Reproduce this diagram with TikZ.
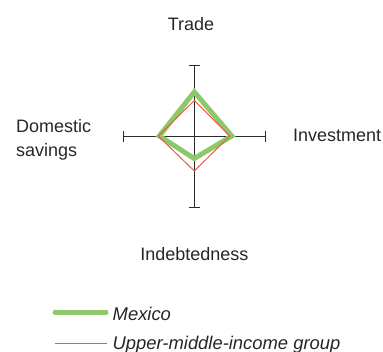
\documentclass[tikz,border=0pt]{standalone}
\usepackage{fontspec}
\setmainfont{Liberation Sans}
\definecolor{mexgreen}{HTML}{8DC96B}
\definecolor{umired}{HTML}{EE5A40}
\definecolor{axisgray}{HTML}{2B2B2B}
\begin{document}
\begin{tikzpicture}[x=1pt,y=-1pt,
  lbl/.style={inner sep=0pt,font=\fontsize{18}{24.5}\selectfont,text=black!85},
  leglbl/.style={lbl,font=\fontsize{18.4}{24.5}\selectfont\itshape},
  axisline/.style={draw=axisgray,line width=1pt},
  mexline/.style={draw=mexgreen,line width=5pt},
  umiline/.style={draw=umired,line width=1pt}]
\useasboundingbox (0,0) rectangle (383,351);
% centre
\coordinate (c) at (194.3,136);
% axes
\coordinate (at) at (194.3,65);
\coordinate (ab) at (194.3,207);
\coordinate (al) at (123.3,136);
\coordinate (ar) at (265.3,136);
\draw[axisline] (at) -- (ab);
\draw[axisline] (al) -- (ar);
\draw[axisline] ([xshift=-5.5]at) -- ([xshift=5.5]at);
\draw[axisline] ([xshift=-5.5]ab) -- ([xshift=5.5]ab);
\draw[axisline] ([yshift=-5.5]al) -- ([yshift=5.5]al);
\draw[axisline] ([yshift=-5.5]ar) -- ([yshift=5.5]ar);
% Mexico
\coordinate (mt) at (194.3,92);
\coordinate (mr) at (231.8,136);
\coordinate (mb) at (194.3,158.5);
\coordinate (ml) at (159.3,136);
\draw[mexline] (mt) -- (mr) -- (mb) -- (ml) -- cycle;
% Upper-middle-income group
\coordinate (ut) at (194.3,100.5);
\coordinate (ur) at (229.8,136);
\coordinate (ub) at (194.3,171);
\coordinate (ul) at (158.3,136);
\draw[umiline] (ut) -- (ur) -- (ub) -- (ul) -- cycle;
% labels
\node[lbl,anchor=base] (trade) at (191,30) {Trade};
\node[lbl,anchor=base west] (inv) at (293,141.5) {Investment};
\node[lbl,anchor=base west] (dom1) at (16,132) {Domestic};
\node[lbl,anchor=base west] (dom2) at (16,156.5) {savings};
\node[lbl,anchor=base] (indebt) at (194.3,260.5) {Indebtedness};
% legend
\coordinate (g1) at (55,312);
\coordinate (g2) at (106,312);
\draw[mexline,line cap=round] (g1) -- (g2);
\node[leglbl,anchor=base west] (mexlbl) at (112.5,320) {Mexico};
\coordinate (r1) at (55,343.5);
\coordinate (r2) at (106.7,343.5);
\draw[umiline,line width=1.2pt] (r1) -- (r2);
\node[leglbl,anchor=base west] (umilbl) at (112.5,349.5) {Upper-middle-income group};
\end{tikzpicture}
\end{document}
